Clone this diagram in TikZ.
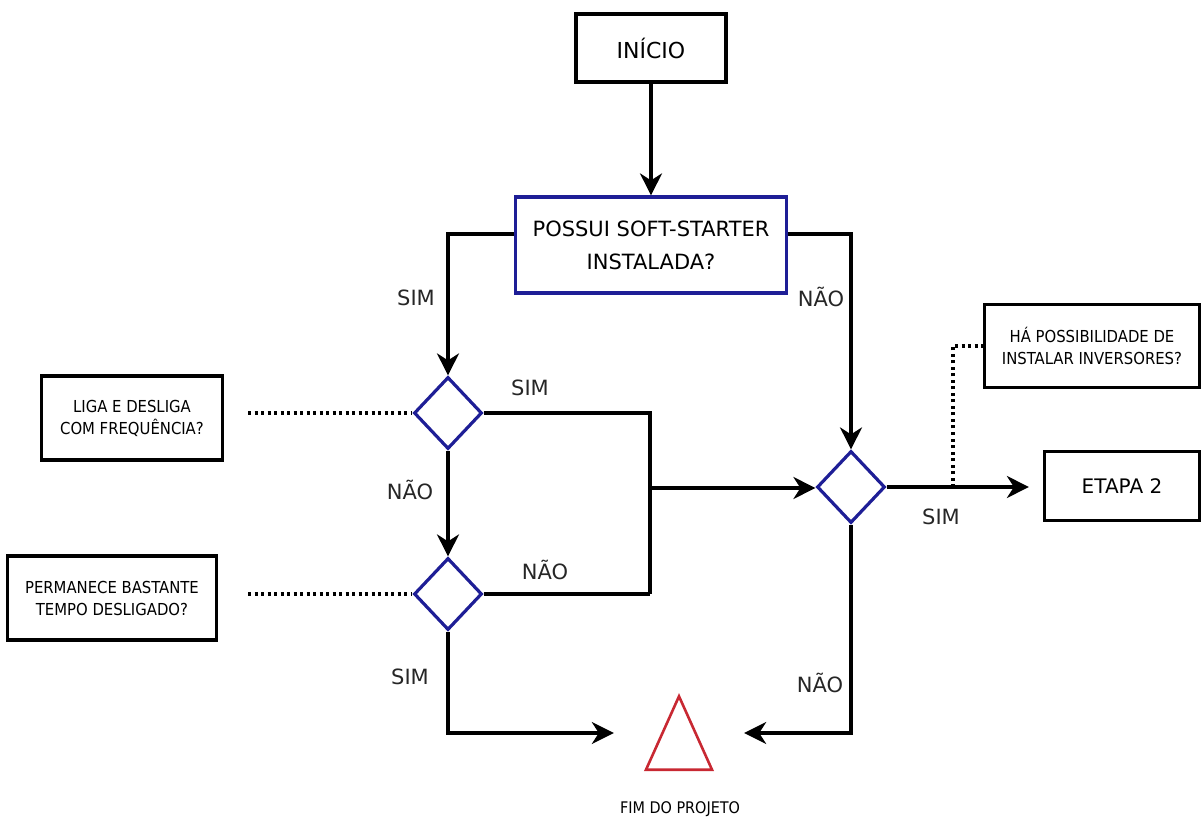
\documentclass[tikz,border=0pt]{standalone}
\usepackage{fontspec}
\setmainfont{DejaVu Sans}
\newfontfamily\condfont{DejaVu Sans Condensed}
\usetikzlibrary{shapes.geometric,arrows.meta}
\definecolor{dblue}{RGB}{30,30,150}
\definecolor{fred}{RGB}{200,40,50}
\tikzset{
  box/.style={draw=black, line width=3.2pt, align=center, inner sep=0pt},
  bbox/.style={draw=dblue, line width=3.2pt, align=center, inner sep=0pt},
  dia/.style={diamond, draw=dblue, line width=3.2pt, minimum width=68pt, minimum height=72pt, inner sep=0pt},
  conn/.style={line width=3.2pt, -{Stealth[length=22pt,width=22pt,inset=7pt]}},
  line/.style={line width=3.2pt},
  dots/.style={line width=3.2pt, dash pattern=on 3pt off 3.5pt},
  lbl/.style={font=\fontsize{21}{25}\selectfont, text=black!85},
  small/.style={font=\condfont\fontsize{16.5}{22}\selectfont},
}
\begin{document}
\begin{tikzpicture}[x=1pt,y=-1pt]
\useasboundingbox (0,0) rectangle (1203,818);
\node[box, minimum width=150pt, minimum height=68pt, font=\fontsize{22}{25}\selectfont] (inicio) at (651,48) {INÍCIO};
\node[bbox, minimum width=271pt, minimum height=96pt, font=\fontsize{21}{33}\selectfont] (possui) at (651,245) {POSSUI SOFT-STARTER\\INSTALADA?};
\node[dia] (d1) at (448,413) {};
\node[dia] (d2) at (448,594) {};
\node[dia] (d3) at (851,487) {};
\node[box, minimum width=181pt, minimum height=84pt, small] (liga) at (132,418) {LIGA E DESLIGA\\COM FREQUÊNCIA?};
\node[box, minimum width=209pt, minimum height=84pt, small] (perm) at (112,598) {PERMANECE BASTANTE\\TEMPO DESLIGADO?};
\node[box, minimum width=215pt, minimum height=83pt, small] (ha) at (1092,346) {HÁ POSSIBILIDADE DE\\INSTALAR INVERSORES?};
\node[box, minimum width=155pt, minimum height=69pt, font=\fontsize{20}{24}\selectfont] (etapa) at (1122,486) {ETAPA 2};
\node[minimum width=130pt, minimum height=73pt, inner sep=0pt] (fim) at (679,733) {};
\draw[draw=fred, line width=2.6pt] (fim.north) -- ([xshift=33pt]fim.south) -- ([xshift=-33pt]fim.south) -- cycle;
\node[small, font=\condfont\fontsize{16}{20}\selectfont] (fimlbl) at (680,809) {FIM DO PROJETO};
\coordinate (j1) at (650,413);
\coordinate (j2) at (650,594);
\coordinate (j3) at (650,488);
\coordinate (ld1) at (248,413);
\coordinate (ld2) at (248,594);
\coordinate (tap) at (953,487);
% connectors
\draw[conn] (inicio) -- (possui);
\draw[conn] (possui.west |- 0,234) -| (d1.north);
\draw[conn] (possui.east |- 0,234) -| (d3.north);
\draw[line] (d1.east) -- (j1) -- (j2);
\draw[line] (d2.east) -- (j2);
\draw[conn] (j3) -- (d3.west |- j3);
\draw[conn] (d1.south) -- (d2.north);
\draw[conn] (d2.south) |- (fim.west);
\draw[conn] (d3.south) |- (fim.east);
\draw[conn] (d3.east) -- ([xshift=-14pt]etapa.west |- d3.east);
\draw[dots] (ld1) -- (d1.west);
\draw[dots] (ld2) -- (d2.west);
\draw[dots] (tap) |- (ha.west);
% labels
\node[lbl] (l1) at (416,298) {SIM};
\node[lbl] (l2) at (821,297) {NÃO};
\node[lbl] (l3) at (530,388) {SIM};
\node[lbl] (l4) at (410,490) {NÃO};
\node[lbl] (l5) at (545,570) {NÃO};
\node[lbl] (l6) at (410,677) {SIM};
\node[lbl] (l7) at (941,517) {SIM};
\node[lbl] (l8) at (820,683) {NÃO};
\end{tikzpicture}
\end{document}
